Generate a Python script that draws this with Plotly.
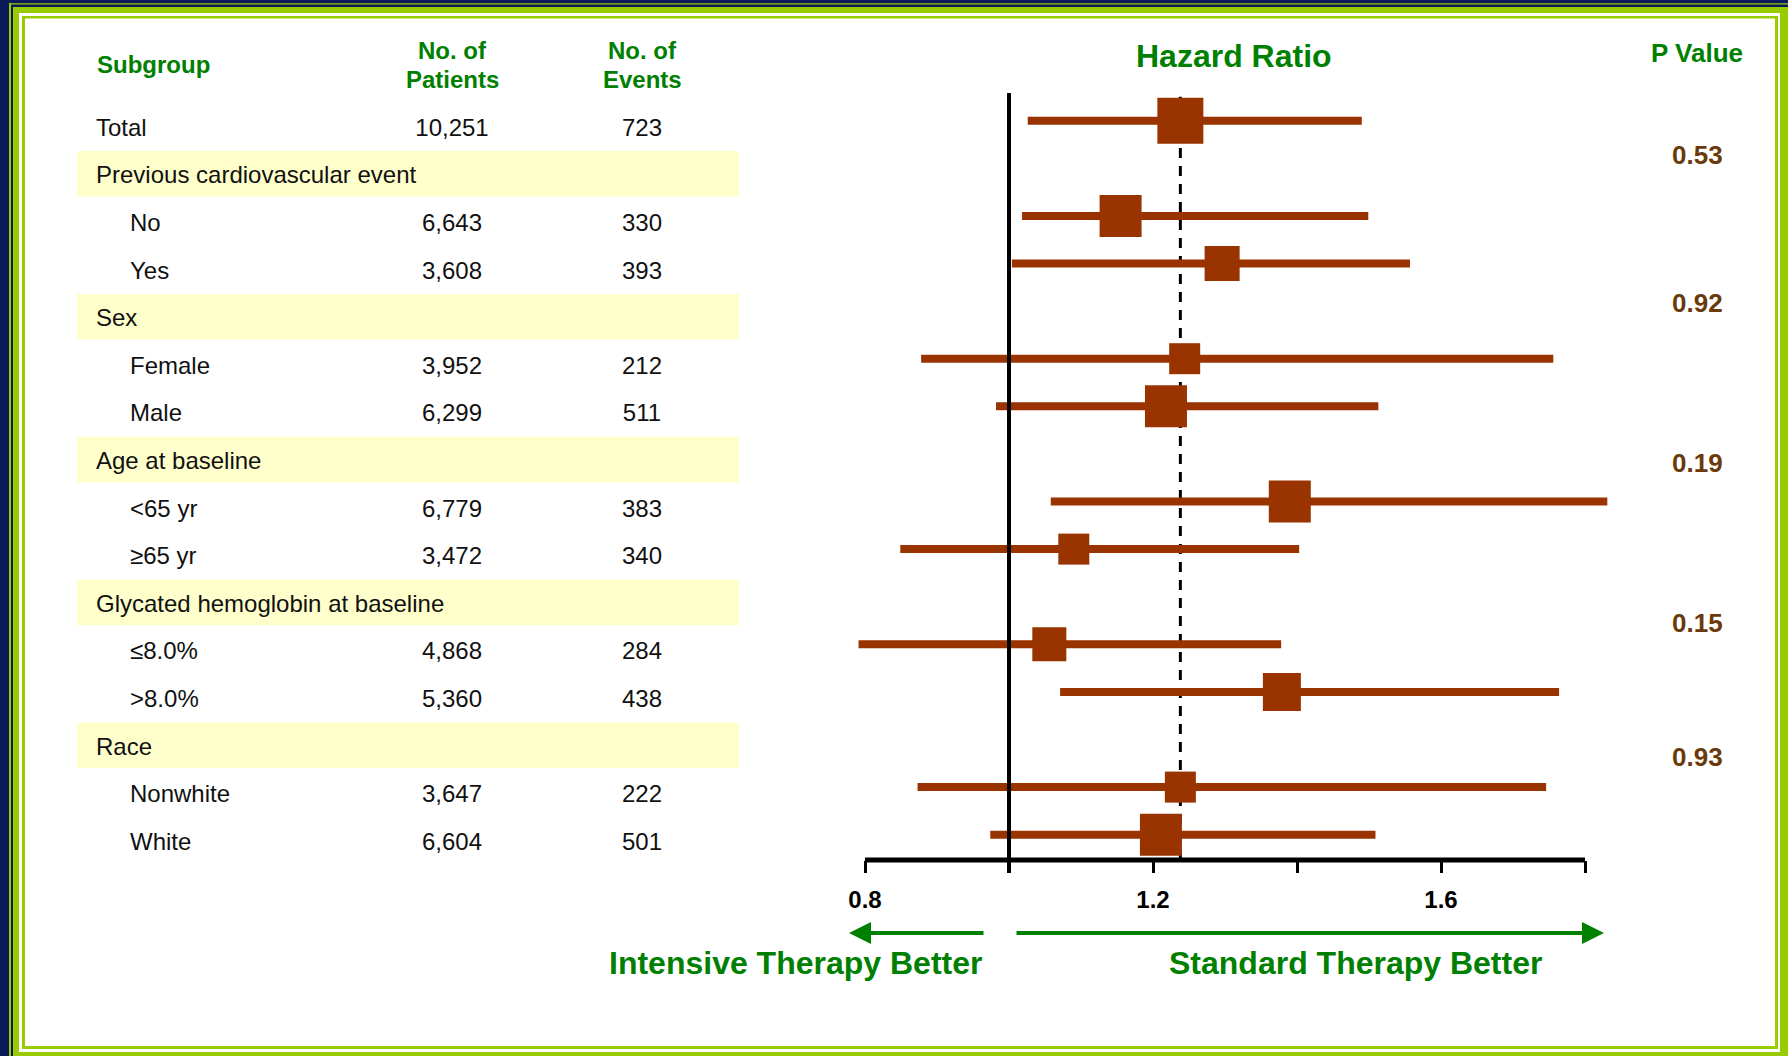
import plotly.graph_objects as go

# ---- data -------------------------------------------------------------
rows = ["Total", "Previous cardiovascular event", "No", "Yes", "Sex", "Female", "Male",
        "Age at baseline", "<65 yr", "≥65 yr", "Glycated hemoglobin at baseline",
        "≤8.0%", ">8.0%", "Race", "Nonwhite", "White"]
level = [0, 0, 1, 1, 0, 1, 1, 0, 1, 1, 0, 1, 1, 0, 1, 1]
patients = ["10,251", None, "6,643", "3,608", None, "3,952", "6,299", None, "6,779", "3,472",
            None, "4,868", "5,360", None, "3,647", "6,604"]
events = ["723", None, "330", "393", None, "212", "511", None, "383", "340",
          None, "284", "438", None, "222", "501"]
hr = [1.238, None, 1.155, 1.296, None, 1.244, 1.218, None, 1.390, 1.090,
      None, 1.056, 1.379, None, 1.238, 1.211]
hr_lo = [1.026, None, 1.018, 1.004, None, 0.878, 0.982, None, 1.058, 0.849,
         None, 0.791, 1.071, None, 0.873, 0.974]
hr_hi = [1.490, None, 1.499, 1.557, None, 1.756, 1.513, None, 1.831, 1.403,
         None, 1.378, 1.764, None, 1.746, 1.509]
p_values = ["0.53", "0.92", "0.19", "0.15", "0.93"]
tick_vals = [0.8, 1.0, 1.2, 1.4, 1.6, 1.8]
tick_text = ["0.8", "", "1.2", "", "1.6", ""]

# ---- styling / layout constants ----------------------------------------
W, H = 1788, 1056
FONT = "Liberation Sans, Arial, sans-serif"
GREEN = "#008000"
RUST = "#993300"
BROWN = "#6B3A0C"
BAND = "#FFFFCC"
NAVY = "#0B1A5A"
LIME = "#99CC00"
box_px = [46, None, 42, 35, None, 31, 42, None, 42, 31, None, 34, 38, None, 31, 42]
pval_rows = [0.72, 3.83, 7.19, 10.55, 13.37]

ROW_PX = 47.6
FOREST_TOP, FOREST_BOTTOM, FOREST_ROW0 = 93, 860, 120.7
TABLE_SHIFT = 9
row_top = (FOREST_TOP - FOREST_ROW0) / ROW_PX
row_bottom = (FOREST_BOTTOM - FOREST_ROW0) / ROW_PX


def px(x):
    return x / W


def py(y):
    return 1 - y / H


def esc(s):
    return s.replace("&", "&amp;").replace("<", "&lt;").replace(">", "&gt;")


fig = go.Figure()

# confidence intervals
ci_x, ci_y = [], []
for i, (lo, hi) in enumerate(zip(hr_lo, hr_hi)):
    if lo is None:
        continue
    ci_x += [lo, hi, None]
    ci_y += [i, i, None]
fig.add_trace(go.Scatter(x=ci_x, y=ci_y, mode="lines", line=dict(color=RUST, width=8),
                         hoverinfo="skip", xaxis="x", yaxis="y"))

# point estimates
pt_idx = [i for i, v in enumerate(hr) if v is not None]
fig.add_trace(go.Scatter(
    x=[hr[i] for i in pt_idx], y=pt_idx, mode="markers",
    marker=dict(symbol="square", size=[box_px[i] for i in pt_idx], color=RUST,
                opacity=1, line=dict(width=0)),
    xaxis="x", yaxis="y", hovertemplate="HR %{x:.2f}<extra></extra>"))

# table columns
label_x = [96 if lv == 0 else 130 for lv in level]
fig.add_trace(go.Scatter(x=label_x, y=list(range(len(rows))), mode="text",
                         text=[esc(r) for r in rows], textposition="middle right",
                         textfont=dict(family=FONT, size=24, color="#111111"),
                         xaxis="x2", yaxis="y2", hoverinfo="skip"))
num_idx = [i for i, v in enumerate(patients) if v is not None]
fig.add_trace(go.Scatter(x=[452] * len(num_idx), y=num_idx, mode="text",
                         text=[patients[i] for i in num_idx], textposition="middle center",
                         textfont=dict(family=FONT, size=24, color="#111111"),
                         xaxis="x2", yaxis="y2", hoverinfo="skip"))
fig.add_trace(go.Scatter(x=[642] * len(num_idx), y=num_idx, mode="text",
                         text=[events[i] for i in num_idx], textposition="middle center",
                         textfont=dict(family=FONT, size=24, color="#111111"),
                         xaxis="x2", yaxis="y2", hoverinfo="skip"))

shapes = []


def rect(x0, y0, x1, y1, color):
    shapes.append(dict(type="rect", xref="paper", yref="paper", x0=px(x0), x1=px(x1),
                       y0=py(y1), y1=py(y0), fillcolor=color, line=dict(width=0), layer="below"))


# slide frame
rect(0, 0, W, H, NAVY)
rect(9, 3.3, W, 4.6, LIME)
rect(9, 3.3, 11, H, LIME)
rect(13, 7, W, H, LIME)
rect(19, 13, 1780, 1052, "white")
rect(22, 16, 1778, 1049, LIME)
rect(25, 18.5, 1775, 1046, "white")

# shaded group header rows
for i, lv in enumerate(level):
    if lv == 0 and patients[i] is None:
        shapes.append(dict(type="rect", xref="x2", yref="y2", x0=77, x1=739,
                           y0=i - 0.55, y1=i + 0.41, fillcolor=BAND,
                           line=dict(width=0), layer="below"))

# overall estimate (dashed) and line of no effect
shapes.append(dict(type="line", xref="x", yref="y domain", x0=hr[0], x1=hr[0], y0=0, y1=0.995,
                   line=dict(color="black", width=3, dash="10px,8px"), layer="below"))
shapes.append(dict(type="line", xref="x", yref="y domain", x0=1.0, x1=1.0, y0=-0.017, y1=1.0,
                   line=dict(color="black", width=4), layer="above"))
# hazard-ratio axis baseline
shapes.append(dict(type="line", xref="x", yref="y domain", x0=tick_vals[0], x1=tick_vals[-1],
                   y0=0, y1=0, line=dict(color="black", width=5), layer="above"))

annotations = []


def label(text, x, y, size, color=GREEN, anchor="center", bold=True):
    annotations.append(dict(text=text, x=px(x), y=py(y), xref="paper", yref="paper",
                            xanchor=anchor, yanchor="middle", showarrow=False,
                            font=dict(family=FONT, size=size, color=color,
                                      weight="bold" if bold else "normal")))


label("Subgroup", 95, 65, 24, anchor="left")
label("No. of", 452, 50, 24)
label("Patients", 452, 79, 24)
label("No. of", 642, 50, 24)
label("Events", 642, 79, 24)
label("Hazard Ratio", 1234, 56, 32)
label("P Value", 1697, 53, 26)
label("Intensive Therapy Better", 795, 963, 32)
label("Standard Therapy Better", 1355, 963, 32)

for p, r in zip(p_values, pval_rows):
    annotations.append(dict(text=p, x=px(1697), y=r, xref="paper", yref="y",
                            xanchor="center", yanchor="middle", showarrow=False,
                            font=dict(family=FONT, size=26, color=BROWN, weight="bold")))

# direction arrows
for tip, tail in [(849, 985), (1604, 1015)]:
    annotations.append(dict(text="", x=px(tip), y=py(933), xref="paper", yref="paper",
                            ax=tail - tip, ay=0, showarrow=True, arrowhead=2, arrowsize=1.1,
                            arrowwidth=4, arrowcolor=GREEN, standoff=0))

fig.update_layout(
    width=W, height=H, margin=dict(l=0, r=0, t=0, b=0),
    paper_bgcolor="white", plot_bgcolor="rgba(0,0,0,0)", showlegend=False,
    shapes=shapes, annotations=annotations,
    xaxis=dict(domain=[px(840), px(1625)], range=[0.8 - 25 / 720, 0.8 + 760 / 720],
               anchor="y", showgrid=False, zeroline=False, showline=False,
               tickmode="array", tickvals=tick_vals, ticktext=tick_text,
               ticks="outside", ticklen=12, tickwidth=3, tickcolor="black",
               ticklabelstandoff=6,
               tickfont=dict(family=FONT, size=24, color="black", weight="bold")),
    yaxis=dict(domain=[py(FOREST_BOTTOM), py(FOREST_TOP)], range=[row_bottom, row_top],
               anchor="x", visible=False),
    xaxis2=dict(domain=[0, px(822)], range=[0, 822], anchor="y2", visible=False),
    yaxis2=dict(domain=[py(FOREST_BOTTOM + TABLE_SHIFT), py(FOREST_TOP + TABLE_SHIFT)],
                range=[row_bottom, row_top], anchor="x2", visible=False),
)

fig.write_html("out.html")
